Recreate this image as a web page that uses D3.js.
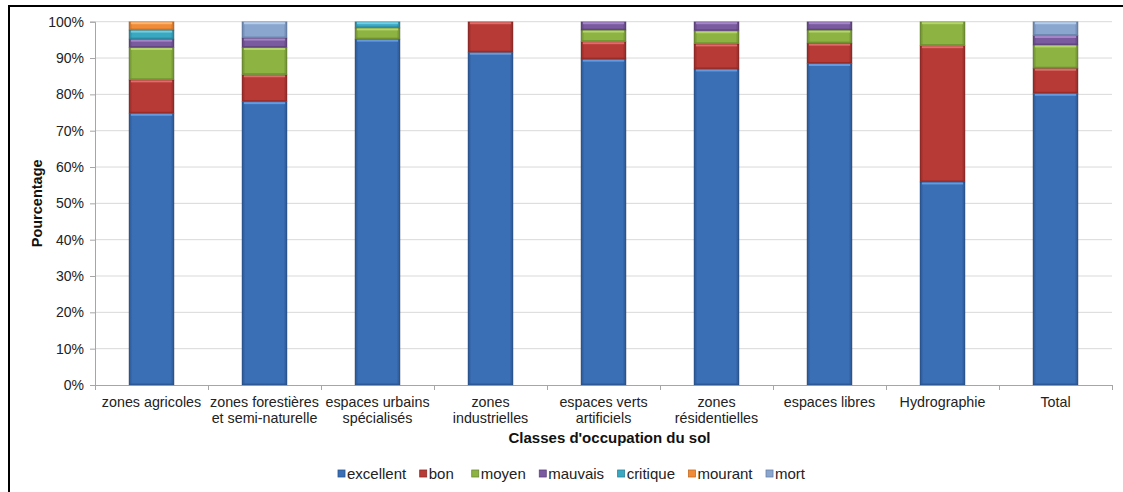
<!DOCTYPE html>
<html><head><meta charset="utf-8">
<script src="https://cdn.jsdelivr.net/npm/d3@7"></script>
<style>
html,body{margin:0;padding:0;background:#fff;}
svg{display:block;font-family:"Liberation Sans",Arial,sans-serif;}
</style></head>
<body>
<svg id="chart" width="1123" height="492"></svg>
<script>
const categories = [
  ["zones agricoles"],
  ["zones forestières","et semi-naturelle"],
  ["espaces urbains","spécialisés"],
  ["zones","industrielles"],
  ["espaces verts","artificiels"],
  ["zones","résidentielles"],
  ["espaces libres"],
  ["Hydrographie"],
  ["Total"]
];
const seriesNames = ["excellent","bon","moyen","mauvais","critique","mourant","mort"];
const excellent = [74.8, 78.0, 95.2, 91.6, 89.7, 87.0, 88.5, 55.9, 80.3];
const bon       = [ 9.2,  7.4,  0.0,  8.4,  4.8,  6.9,  5.6, 37.5,  6.9];
const moyen     = [ 8.9,  7.5,  3.1,  0.0,  3.2,  3.6,  3.6,  6.6,  6.4];
const mauvais   = [ 2.3,  2.6,  0.0,  0.0,  2.3,  2.5,  2.3,  0.0,  2.6];
const critique  = [ 2.5,  0.0,  1.7,  0.0,  0.0,  0.0,  0.0,  0.0,  0.0];
const mourant   = [ 2.3,  0.0,  0.0,  0.0,  0.0,  0.0,  0.0,  0.0,  0.0];
const mort      = [ 0.0,  4.5,  0.0,  0.0,  0.0,  0.0,  0.0,  0.0,  3.8];
const yTicks = [0,10,20,30,40,50,60,70,80,90,100];

(function(){
const colors = {
  excellent:["#3a6fb5","#2a5590","#6b9ee0"],
  bon:["#b83a36","#8e2a27","#e07470"],
  moyen:["#8db342","#6b8a30","#b8d870"],
  mauvais:["#7b5ba0","#5c4279","#a88bcb"],
  critique:["#3ba8c2","#2b8199","#78d0e6"],
  mourant:["#f08c38","#c46c22","#fbbb7a"],
  mort:["#8aa6cf","#6781a8","#bcd0ec"]
};

const seriesData = {excellent,bon,moyen,mauvais,critique,mourant,mort};
const rows = categories.map((c,i)=>{
  const r = {cat:c.join(" ")};
  seriesNames.forEach(s=> r[s]=seriesData[s][i]);
  return r;
});

const svg = d3.select("#chart");
const pLeft=95, pRight=1112, pTop=21.7, pBottom=385;

svg.append("path").attr("d",`M9,500 L9,6 L1130,6`).attr("fill","none").attr("stroke","#000").attr("stroke-width",2);

const x = d3.scaleBand().domain(rows.map(r=>r.cat)).range([pLeft,pRight]).paddingInner(0.6).paddingOuter(0.3);
const y = d3.scaleLinear().domain([0,100]).range([pBottom,pTop]);

const defs = svg.append("defs");
seriesNames.forEach(s=>{
  const g = defs.append("linearGradient").attr("id","g_"+s).attr("x1","0").attr("x2","1").attr("y1","0").attr("y2","0");
  g.append("stop").attr("offset","0").attr("stop-color",colors[s][1]);
  g.append("stop").attr("offset","0.08").attr("stop-color",colors[s][0]);
  g.append("stop").attr("offset","0.92").attr("stop-color",colors[s][0]);
  g.append("stop").attr("offset","1").attr("stop-color",colors[s][1]);
});

svg.append("g").selectAll("line").data(yTicks.filter(t=>t>0)).join("line")
  .attr("x1",pLeft).attr("x2",pRight).attr("y1",d=>y(d)).attr("y2",d=>y(d))
  .attr("stroke","#d9d9d9").attr("stroke-width",1);

const yAxis = d3.axisLeft(y).tickValues(yTicks).tickFormat(d=>d+"%").tickSize(5).tickPadding(6);
const ya = svg.append("g").attr("transform",`translate(${pLeft},0)`).call(yAxis);
ya.select(".domain").attr("stroke","#a6a6a6");
ya.selectAll(".tick line").attr("stroke","#a6a6a6");
ya.selectAll("text").attr("font-size","14px").attr("fill","#222").attr("font-family","Liberation Sans, Arial, sans-serif");

svg.append("line").attr("x1",pLeft).attr("x2",pRight).attr("y1",pBottom+0.5).attr("y2",pBottom+0.5).attr("stroke","#a6a6a6");
svg.append("g").selectAll("line").data(d3.range(categories.length+1)).join("line")
  .attr("x1",d=>Math.round(pLeft + d*(pRight-pLeft)/categories.length)+0.5)
  .attr("x2",d=>Math.round(pLeft + d*(pRight-pLeft)/categories.length)+0.5)
  .attr("y1",pBottom).attr("y2",pBottom+5).attr("stroke","#a6a6a6");

const stacked = d3.stack().keys(seriesNames)(rows);
const gBars = svg.append("g");
stacked.forEach(layer=>{
  const s = layer.key;
  const gl = gBars.append("g");
  layer.forEach((d,i)=>{
    if (d[1]-d[0] <= 0) return;
    const x0 = x(rows[i].cat), w = x.bandwidth();
    const y0 = y(d[1]), h = y(d[0]) - y(d[1]);
    gl.append("rect").attr("x",x0).attr("y",y0).attr("width",w).attr("height",h)
      .attr("fill",`url(#g_${s})`).attr("stroke","rgba(0,0,0,0.18)").attr("stroke-width",0.8);
    if (h>4){
      gl.append("rect").attr("x",x0+2).attr("y",y0+0.5).attr("width",w-4).attr("height",2)
        .attr("fill",colors[s][2]).attr("opacity",0.9);
      gl.append("rect").attr("x",x0+1).attr("y",y0+h-1.5).attr("width",w-2).attr("height",1.5)
        .attr("fill",colors[s][1]).attr("opacity",0.8);
    }
  });
});

const xl = svg.append("g");
categories.forEach((c,i)=>{
  const cx = x(rows[i].cat)+x.bandwidth()/2;
  const t = xl.append("text").attr("x",cx).attr("y",407).attr("text-anchor","middle")
    .attr("font-size","14.3px").attr("fill","#222");
  c.forEach((line,j)=>{
    t.append("tspan").attr("x",cx).attr("dy", j===0?0:15.5).text(line);
  });
});

svg.append("text").attr("x",(pLeft+pRight)/2+6).attr("y",443).attr("text-anchor","middle")
  .attr("font-size","15px").attr("font-weight","bold").attr("fill","#111").text("Classes d'occupation du sol");
svg.append("text").attr("transform",`translate(42,${(pTop+pBottom)/2}) rotate(-90)`).attr("text-anchor","middle")
  .attr("font-size","14.5px").attr("font-weight","bold").attr("fill","#111").text("Pourcentage");

const lg = svg.append("g");
let lx = 338;
const ly = 474;
seriesNames.forEach(s=>{
  lg.append("rect").attr("x",lx).attr("y",ly-4).attr("width",7).attr("height",7)
    .attr("fill",colors[s][0]).attr("stroke",colors[s][1]).attr("stroke-width",0.8);
  const t = lg.append("text").attr("x",lx+9).attr("y",ly+5).attr("font-size","15px").attr("fill","#222").text(s);
  lx += 9 + t.node().getComputedTextLength() + (s==="bon" ? 18 : 13.5);
});
})();
</script>
</body></html>
